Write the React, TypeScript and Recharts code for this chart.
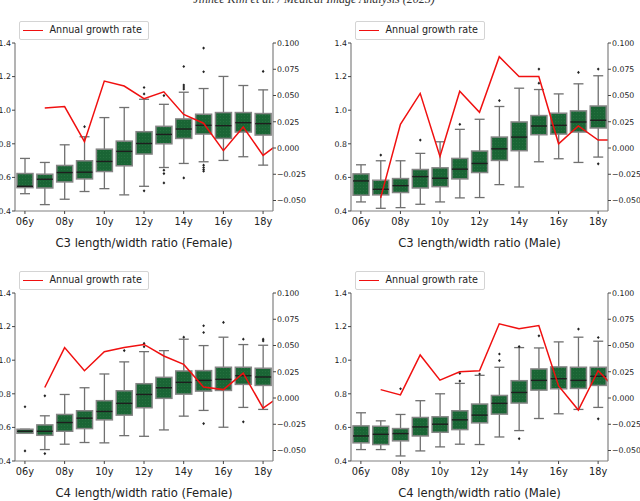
import React from 'react';
import { ComposedChart, Bar, Line, XAxis, YAxis } from 'recharts';

const ages = ['06y', '07y', '08y', '09y', '10y', '11y', '12y', '13y', '14y', '15y', '16y', '17y', '18y'];
const leftTicks = [0.4, 0.6, 0.8, 1.0, 1.2, 1.4];
const rightTicks = [-0.05, -0.025, 0, 0.025, 0.05, 0.075, 0.1];

// C3 female
const c3fLow = [0.503, 0.438, 0.47, 0.516, 0.533, 0.496, 0.547, 0.659, 0.683, 0.693, 0.701, 0.723, 0.673];
const c3fQ1 = [0.539, 0.537, 0.573, 0.591, 0.635, 0.669, 0.739, 0.8, 0.832, 0.858, 0.832, 0.87, 0.852];
const c3fMed = [0.547, 0.589, 0.629, 0.631, 0.695, 0.755, 0.802, 0.856, 0.888, 0.91, 0.908, 0.926, 0.92];
const c3fQ3 = [0.623, 0.619, 0.671, 0.699, 0.768, 0.816, 0.872, 0.904, 0.948, 0.976, 0.986, 0.986, 0.98];
const c3fHigh = [0.713, 0.689, 0.794, 0.842, 0.956, 1.016, 1.065, 1.035, 1.107, 1.129, 1.201, 1.147, 1.121];
const c3fOut = [[], [], [], [0.902], [], [], [1.135, 1.097, 0.52], [1.087, 0.643, 0.623, 0.567],
  [1.26, 1.15, 1.138, 1.126, 0.597], [1.37, 1.229, 0.673, 0.659, 0.647, 0.637], [], [], [1.231]];
// growth rate from 07y on; last value sits past the right edge
const c3fGrowth = [0.038, 0.0395, 0.006, 0.0637, 0.059, 0.047, 0.0535, 0.032, 0.0236, -0.0025, 0.02, -0.007, 0.007];

// C3 male
const c3mLow = [0.454, 0.416, 0.42, 0.44, 0.454, 0.478, 0.48, 0.557, 0.543, 0.693, 0.711, 0.689, 0.721];
const c3mQ1 = [0.494, 0.496, 0.51, 0.537, 0.545, 0.591, 0.629, 0.701, 0.759, 0.854, 0.858, 0.87, 0.894];
const c3mMed = [0.579, 0.529, 0.551, 0.605, 0.595, 0.649, 0.683, 0.77, 0.84, 0.906, 0.91, 0.93, 0.94];
const c3mQ3 = [0.621, 0.583, 0.593, 0.647, 0.657, 0.713, 0.757, 0.84, 0.93, 0.968, 0.982, 0.996, 1.025];
const c3mHigh = [0.675, 0.699, 0.699, 0.743, 0.812, 0.886, 0.946, 1.022, 1.131, 1.123, 1.097, 1.157, 1.205];
const c3mOut = [[], [0.733], [], [0.822], [], [0.916], [], [1.057], [], [1.245, 1.161], [], [1.225], [1.245, 0.681]];
const c3mGrowth = [-0.0475, 0.0226, 0.052, -0.008, 0.054, 0.034, 0.087, 0.068, 0.068, 0.004, 0.021, 0.0076, 0.0076];

// C4 female
const c4fLow = [0.565, 0.468, 0.5, 0.51, 0.508, 0.551, 0.547, 0.585, 0.667, 0.701, 0.601, 0.719, 0.707];
const c4fQ1 = [0.565, 0.553, 0.577, 0.593, 0.645, 0.673, 0.717, 0.773, 0.798, 0.816, 0.82, 0.856, 0.85];
const c4fMed = [0.577, 0.577, 0.629, 0.655, 0.695, 0.743, 0.796, 0.836, 0.868, 0.88, 0.886, 0.908, 0.9];
const c4fQ3 = [0.589, 0.615, 0.677, 0.699, 0.759, 0.818, 0.86, 0.898, 0.936, 0.938, 0.958, 0.958, 0.952];
const c4fHigh = [0.589, 0.669, 0.796, 0.836, 0.918, 0.99, 1.051, 1.057, 1.125, 1.087, 1.137, 1.093, 1.089];
const c4fOut = [[0.723, 0.46], [0.788, 0.444], [], [], [], [1.057], [1.1, 1.08], [], [1.137],
  [1.205, 1.165, 0.623], [1.225], [1.125, 0.633], [1.125, 1.115]];
const c4fGrowth = [0.01, 0.048, 0.026, 0.044, 0.048, 0.051, 0.04, 0.032, 0.0105, 0.008, 0.0236, -0.0096, 0.0035];

// C4 male
const c4mLow = [0.468, 0.468, 0.43, 0.46, 0.484, 0.5, 0.498, 0.543, 0.581, 0.653, 0.681, 0.707, 0.719];
const c4mQ1 = [0.508, 0.498, 0.52, 0.549, 0.571, 0.587, 0.627, 0.679, 0.745, 0.822, 0.83, 0.832, 0.85];
const c4mMed = [0.549, 0.559, 0.563, 0.603, 0.619, 0.645, 0.673, 0.743, 0.808, 0.88, 0.89, 0.88, 0.904];
const c4mQ3 = [0.609, 0.607, 0.593, 0.659, 0.663, 0.699, 0.739, 0.79, 0.878, 0.948, 0.96, 0.958, 0.958];
const c4mHigh = [0.687, 0.639, 0.677, 0.759, 0.8, 0.862, 0.91, 0.958, 1.075, 1.073, 1.109, 1.137, 1.113];
const c4mOut = [[], [], [0.83], [], [], [0.922, 0.876], [0.918], [1.037, 0.998], [1.081, 0.533], [1.145], [], [1.185],
  [1.135, 0.651]];
const c4mGrowth = [0.008, 0.003, 0.041, 0.017, 0.025, 0.026, 0.0707, 0.066, 0.069, 0.0115, -0.0115, 0.026, 0.0067];

const FONT = '"DejaVu Sans", sans-serif';
const SPINE = '#808080';

const buildBoxes = (low: number[], q1: number[], med: number[], q3: number[], high: number[], out: number[][]) =>
  ages.map((age, i) => {
    const all = [low[i], high[i], ...out[i]];
    return {
      age,
      low: low[i], q1: q1[i], med: med[i], q3: q3[i], high: high[i], out: out[i],
      range: [Math.min(...all), Math.max(...all)],
    };
  });

const buildLine = (growth: number[]) => growth.map((g, i) => ({ pos: i + 1, g }));

// draws whiskers, box, median and fliers inside the bar's own pixel range
const makeBoxShape = (patternId: string) => (props: any) => {
  const { x, y, width, height, payload } = props;
  const [lo, hi] = payload.range;
  const py = (v: number) => y + (height * (hi - v)) / (hi - lo);
  const cx = x + width / 2;
  const cap = 5;
  return (
    <g>
      <line x1={cx} x2={cx} y1={py(payload.high)} y2={py(payload.q3)} stroke="#707070" strokeWidth={1.3} />
      <line x1={cx} x2={cx} y1={py(payload.q1)} y2={py(payload.low)} stroke="#707070" strokeWidth={1.3} />
      <line x1={cx - cap} x2={cx + cap} y1={py(payload.high)} y2={py(payload.high)} stroke="#707070" strokeWidth={1.3} />
      <line x1={cx - cap} x2={cx + cap} y1={py(payload.low)} y2={py(payload.low)} stroke="#707070" strokeWidth={1.3} />
      <rect x={x} y={py(payload.q3)} width={width} height={Math.max(py(payload.q1) - py(payload.q3), 1)}
        fill={`url(#${patternId})`} stroke="#858585" strokeWidth={1.5} />
      <line x1={x} x2={x + width} y1={py(payload.med)} y2={py(payload.med)} stroke="#1e1e1e" strokeWidth={1.4} />
      {payload.out.map((v: number, k: number) => {
        const oy = py(v);
        return <path key={k} d={`M${cx},${oy - 1.6}L${cx + 1.4},${oy}L${cx},${oy + 1.6}L${cx - 1.4},${oy}Z`} fill="#222" />;
      })}
    </g>
  );
};

const LeftTick = (props: any) => {
  const { x, y, payload } = props;
  return (
    <text x={x} y={y} dy={2.8} textAnchor="end" fontSize={7.8} fill="#222" fontFamily={FONT}>
      {Number(payload.value).toFixed(1)}
    </text>
  );
};

const RightTick = (props: any) => {
  const { x, y, payload } = props;
  const s = Number(payload.value).toFixed(3).replace('-', '\u2212');
  return (
    <text x={x} y={y} dy={2.8} textAnchor="start" fontSize={7.8} fill="#222" fontFamily={FONT}>
      {s}
    </text>
  );
};

const BottomTick = (props: any) => {
  const { x, y, payload } = props;
  return (
    <text x={x} y={y} dy={8.5} textAnchor="middle" fontSize={9.8} fill="#222" fontFamily={FONT}>
      {payload.value}
    </text>
  );
};

interface PanelProps {
  id: string;
  title: string;
  left: number;
  top: number;
  width: number;
  height: number;
  lw: number;
  rw: number;
  boxes: any[];
  line: { pos: number; g: number }[];
}

const Panel: React.FC<PanelProps> = ({ id, title, left, top, width, height, lw, rw, boxes, line }) => {
  const mt = 43;
  const plotBottom = height - (height - 211 - (height - 250));
  const xh = height - 211;
  const plotW = width - lw - rw;
  const patternId = `dots-${id}`;
  return (
    <div style={{ position: 'absolute', left, top, width, height }}>
      <ComposedChart width={width} height={height} data={boxes} margin={{ top: mt, right: 0, bottom: 0, left: 0 }}>
        <defs>
          <pattern id={patternId} width={3} height={3} patternUnits="userSpaceOnUse">
            <rect width={3} height={3} fill="#1a6535" />
            <circle cx={1.5} cy={1.5} r={0.45} fill="#2f7d49" />
          </pattern>
        </defs>
        <XAxis xAxisId="cat" dataKey="age" type="category" interval={1} height={xh}
          axisLine={{ stroke: SPINE, strokeWidth: 1.2 }} tickLine={{ stroke: '#444' }} tickSize={3} tick={<BottomTick />} />
        <XAxis xAxisId="num" dataKey="pos" type="number" orientation="top" domain={[-0.5, 12.5]} allowDataOverflow
          height={0} tick={false} tickLine={false} axisLine={{ stroke: SPINE, strokeWidth: 1.2 }} />
        <YAxis yAxisId="l" orientation="left" width={lw} domain={[0.4, 1.4]} ticks={leftTicks} type="number"
          axisLine={{ stroke: SPINE, strokeWidth: 1.2 }} tickLine={{ stroke: '#444' }} tickSize={3} tickMargin={1}
          tick={<LeftTick />} interval={0} />
        <YAxis yAxisId="r" orientation="right" width={rw} domain={[-0.06, 0.1]} ticks={rightTicks} type="number"
          allowDataOverflow axisLine={{ stroke: SPINE, strokeWidth: 1.2 }} tickLine={{ stroke: '#444' }} tickSize={3}
          tickMargin={1} tick={<RightTick />} interval={0} />
        <Bar xAxisId="cat" yAxisId="l" dataKey="range" barSize={16} shape={makeBoxShape(patternId)}
          isAnimationActive={false} />
        <Line xAxisId="num" yAxisId="r" data={line} dataKey="g" stroke="#f01010" strokeWidth={1.5} dot={false}
          activeDot={false} isAnimationActive={false} />
      </ComposedChart>
      <div style={{
        position: 'absolute', left: lw + 3.5, top: 21, width: 128, height: 16.5,
        border: '1px solid #d4d4d4', borderRadius: 2, background: 'rgba(255,255,255,0.85)',
      }}>
        <div style={{ position: 'absolute', left: 3.5, top: 7.5, width: 20, height: 1.6, background: '#f01010' }} />
        <div style={{
          position: 'absolute', left: 30, top: 2, fontFamily: FONT, fontSize: 9.6, lineHeight: '12px', color: '#222',
          whiteSpace: 'nowrap',
        }}>
          Annual growth rate
        </div>
      </div>
      <div style={{
        position: 'absolute', left: lw, width: plotW, top: 236, textAlign: 'center', fontFamily: FONT,
        fontSize: 11.6, lineHeight: '14px', color: '#222', whiteSpace: 'nowrap',
      }}>
        {title}
      </div>
    </div>
  );
};

export default function App() {
  return (
    <div style={{ position: 'fixed', left: 0, top: 0, width: 640, height: 501, background: '#fff', overflow: 'hidden' }}>
      <div style={{
        position: 'absolute', left: 0, width: 628, top: -7, textAlign: 'center',
        fontFamily: '"Liberation Serif", serif', fontStyle: 'italic', fontSize: 12, lineHeight: '12px', color: '#333',
      }}>
        Jinhee Kim et al. / Medical Image Analysis (2025)
      </div>
      <Panel id="a" title="C3 length/width ratio (Female)" left={0} top={0} width={320} height={250} lw={15} rw={47}
        boxes={buildBoxes(c3fLow, c3fQ1, c3fMed, c3fQ3, c3fHigh, c3fOut)} line={buildLine(c3fGrowth)} />
      <Panel id="b" title="C3 length/width ratio (Male)" left={320} top={0} width={320} height={250} lw={31} rw={32}
        boxes={buildBoxes(c3mLow, c3mQ1, c3mMed, c3mQ3, c3mHigh, c3mOut)} line={buildLine(c3mGrowth)} />
      <Panel id="c" title="C4 length/width ratio (Female)" left={0} top={250} width={320} height={251} lw={15} rw={47}
        boxes={buildBoxes(c4fLow, c4fQ1, c4fMed, c4fQ3, c4fHigh, c4fOut)} line={buildLine(c4fGrowth)} />
      <Panel id="d" title="C4 length/width ratio (Male)" left={320} top={250} width={320} height={251} lw={31} rw={32}
        boxes={buildBoxes(c4mLow, c4mQ1, c4mMed, c4mQ3, c4mHigh, c4mOut)} line={buildLine(c4mGrowth)} />
    </div>
  );
}
